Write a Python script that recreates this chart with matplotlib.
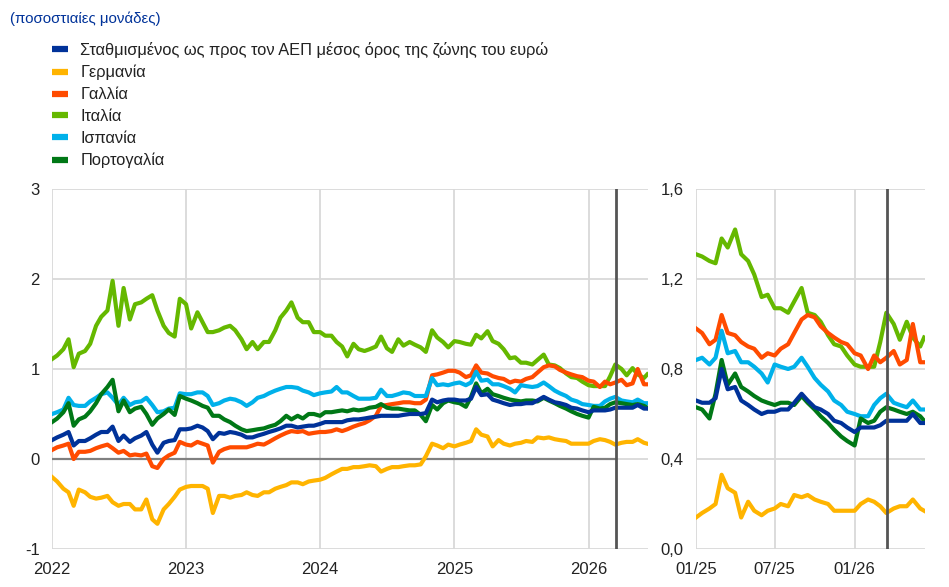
import matplotlib
matplotlib.use("Agg")
import matplotlib.pyplot as plt
import pandas as pd
import numpy as np
from matplotlib.lines import Line2D

plt.rcParams['font.family'] = ['Liberation Sans', 'DejaVu Sans']

# ---------------- data ----------------
dates = list(pd.date_range('2022-01-01', '2026-06-01', freq='SMS')) + [pd.Timestamp('2026-06-10')]

labels = ["Σταθμισμένος ως προς τον ΑΕΠ μέσος όρος της ζώνης του ευρώ",
          "Γερμανία", "Γαλλία", "Ιταλία", "Ισπανία", "Πορτογαλία"]

ea = [0.21, 0.24, 0.27, 0.30, 0.15, 0.20, 0.20, 0.23, 0.27, 0.30,
      0.30, 0.36, 0.20, 0.26, 0.19, 0.23, 0.26, 0.30, 0.16, 0.07,
      0.18, 0.20, 0.21, 0.33, 0.33, 0.34,
      0.37, 0.35, 0.31, 0.22, 0.29, 0.28, 0.30, 0.29, 0.27, 0.24,
      0.24, 0.26, 0.28, 0.30, 0.32, 0.34, 0.37, 0.37, 0.35, 0.36,
      0.37, 0.37, 0.39, 0.41, 0.41, 0.41, 0.41, 0.43, 0.44, 0.44,
      0.45, 0.46, 0.47, 0.48, 0.48, 0.48, 0.48, 0.49, 0.50, 0.50,
      0.50, 0.51, 0.66, 0.63, 0.65, 0.66,
      0.66, 0.65, 0.65, 0.67, 0.80, 0.71, 0.72, 0.66, 0.64, 0.62, 0.60, 0.61, 0.61,
      0.62, 0.62, 0.65, 0.69, 0.66, 0.63, 0.62, 0.60, 0.57, 0.56, 0.54, 0.52,
      0.54, 0.54, 0.54, 0.55, 0.57, 0.57, 0.57, 0.57, 0.60, 0.56, 0.56]

de = [-0.20, -0.25, -0.33, -0.37, -0.52, -0.34, -0.37, -0.42, -0.44, -0.43,
      -0.41, -0.48, -0.52, -0.50, -0.50, -0.56, -0.56, -0.45, -0.67, -0.72,
      -0.56, -0.50, -0.42, -0.34, -0.31, -0.30,
      -0.30, -0.30, -0.33, -0.60, -0.41, -0.41, -0.43, -0.41, -0.40, -0.37,
      -0.40, -0.41, -0.37, -0.37, -0.33, -0.31, -0.29, -0.26, -0.26, -0.28,
      -0.25, -0.24, -0.23, -0.21, -0.17, -0.14, -0.11, -0.11, -0.09, -0.09,
      -0.08, -0.07, -0.08, -0.14, -0.11, -0.09, -0.09, -0.08, -0.07, -0.07,
      -0.06, 0.03, 0.17, 0.15, 0.12, 0.16,
      0.14, 0.16, 0.18, 0.20, 0.33, 0.27, 0.25, 0.14, 0.21, 0.17, 0.15, 0.17, 0.18,
      0.20, 0.19, 0.24, 0.23, 0.24, 0.22, 0.21, 0.20, 0.17, 0.17, 0.17, 0.17,
      0.20, 0.22, 0.21, 0.19, 0.16, 0.18, 0.19, 0.19, 0.22, 0.18, 0.17]

fr = [0.10, 0.13, 0.15, 0.17, 0.00, 0.08, 0.08, 0.09, 0.12, 0.14,
      0.16, 0.12, 0.07, 0.09, 0.04, 0.05, 0.04, 0.06, -0.08, -0.10,
      0.00, 0.04, 0.07, 0.19, 0.16, 0.15,
      0.19, 0.17, 0.15, -0.04, 0.08, 0.11, 0.13, 0.13, 0.13, 0.13,
      0.15, 0.17, 0.16, 0.19, 0.23, 0.26, 0.29, 0.31, 0.30, 0.31,
      0.28, 0.29, 0.30, 0.30, 0.31, 0.33, 0.31, 0.33, 0.36, 0.38,
      0.40, 0.43, 0.48, 0.59, 0.60, 0.61, 0.62, 0.63, 0.63, 0.62,
      0.62, 0.66, 0.93, 0.94, 0.96, 0.98,
      0.98, 0.96, 0.91, 0.93, 1.04, 0.96, 0.95, 0.92, 0.90, 0.89, 0.85, 0.87, 0.86,
      0.89, 0.91, 0.96, 1.02, 1.04, 1.03, 0.99, 0.96, 0.94, 0.92, 0.91, 0.87,
      0.86, 0.80, 0.86, 0.83, 0.85, 0.88, 0.82, 0.84, 1.00, 0.83, 0.83]

it = [1.11, 1.15, 1.22, 1.33, 1.02, 1.17, 1.20, 1.28, 1.48, 1.58,
      1.65, 1.98, 1.48, 1.90, 1.55, 1.72, 1.74, 1.78, 1.82, 1.65,
      1.48, 1.40, 1.36, 1.78, 1.72, 1.45,
      1.63, 1.52, 1.41, 1.41, 1.43, 1.46, 1.48, 1.43, 1.33, 1.22,
      1.30, 1.22, 1.30, 1.30, 1.43, 1.57, 1.65, 1.74, 1.57, 1.52,
      1.52, 1.41, 1.41, 1.37, 1.37, 1.30, 1.25, 1.14, 1.28, 1.22,
      1.20, 1.22, 1.25, 1.36, 1.23, 1.19, 1.33, 1.26, 1.30, 1.27,
      1.24, 1.19, 1.43, 1.35, 1.30, 1.24,
      1.31, 1.30, 1.28, 1.27, 1.38, 1.34, 1.42, 1.31, 1.28, 1.22, 1.12, 1.13, 1.07,
      1.07, 1.05, 1.10, 1.16, 1.05, 1.04, 1.01, 0.95, 0.91, 0.90, 0.86, 0.82,
      0.81, 0.81, 0.81, 0.92, 1.05, 1.00, 0.93, 1.01, 0.94, 0.90, 0.94]

es = [0.50, 0.52, 0.55, 0.68, 0.60, 0.59, 0.59, 0.64, 0.68, 0.72,
      0.74, 0.68, 0.60, 0.68, 0.60, 0.63, 0.64, 0.68, 0.60, 0.52,
      0.53, 0.56, 0.57, 0.73, 0.72, 0.72,
      0.74, 0.74, 0.70, 0.60, 0.62, 0.65, 0.67, 0.66, 0.63, 0.59,
      0.63, 0.68, 0.70, 0.73, 0.76, 0.78, 0.80, 0.80, 0.79, 0.76,
      0.74, 0.71, 0.73, 0.74, 0.75, 0.80, 0.74, 0.74, 0.70, 0.67,
      0.67, 0.67, 0.68, 0.77, 0.70, 0.70, 0.72, 0.74, 0.73, 0.70,
      0.70, 0.70, 0.90, 0.82, 0.83, 0.82,
      0.84, 0.85, 0.82, 0.85, 0.97, 0.87, 0.88, 0.83, 0.83, 0.81, 0.78, 0.74, 0.82,
      0.81, 0.80, 0.81, 0.85, 0.81, 0.76, 0.73, 0.70, 0.66, 0.64, 0.61, 0.60,
      0.59, 0.59, 0.64, 0.67, 0.69, 0.65, 0.64, 0.63, 0.66, 0.62, 0.62]

pt = [0.41, 0.45, 0.52, 0.62, 0.37, 0.44, 0.47, 0.53, 0.62, 0.72,
      0.80, 0.88, 0.53, 0.65, 0.52, 0.56, 0.58, 0.50, 0.38, 0.45,
      0.50, 0.55, 0.49, 0.70, 0.67, 0.65,
      0.62, 0.59, 0.57, 0.48, 0.48, 0.44, 0.41, 0.37, 0.33, 0.31,
      0.32, 0.33, 0.34, 0.36, 0.38, 0.42, 0.48, 0.44, 0.48, 0.45,
      0.50, 0.50, 0.48, 0.52, 0.52, 0.53, 0.54, 0.53, 0.55, 0.54,
      0.55, 0.57, 0.58, 0.61, 0.57, 0.56, 0.56, 0.55, 0.54, 0.54,
      0.49, 0.42, 0.60, 0.55, 0.62, 0.65,
      0.63, 0.62, 0.58, 0.69, 0.84, 0.73, 0.78, 0.72, 0.70, 0.68, 0.66, 0.65, 0.64,
      0.65, 0.65, 0.64, 0.68, 0.65, 0.62, 0.59, 0.56, 0.53, 0.50, 0.48, 0.46,
      0.58, 0.56, 0.57, 0.61, 0.63, 0.62, 0.61, 0.60, 0.61, 0.59, 0.57]

left_yticks = [-1, 0, 1, 2, 3]
right_yticks = [0.0, 0.4, 0.8, 1.2, 1.6]
right_yticklabels = ["0,0", "0,4", "0,8", "1,2", "1,6"]
left_xticks = ['2022-01-01', '2023-01-01', '2024-01-01', '2025-01-01', '2026-01-01']
left_xticklabels = ["2022", "2023", "2024", "2025", "2026"]
right_xticks = ['2025-01-01', '2025-07-01', '2026-01-01']
right_xticklabels = ["01/25", "07/25", "01/26"]
cutoff = '2026-03-16'
title = "(ποσοστιαίες μονάδες)"

# ---------------- style ----------------
colors = {'ea': '#003299', 'de': '#FFB400', 'fr': '#FF4B00',
          'it': '#65B800', 'es': '#00B1EA', 'pt': '#007816'}
series = {'ea': ea, 'de': de, 'fr': fr, 'it': it, 'es': es, 'pt': pt}
legend_order = ['ea', 'de', 'fr', 'it', 'es', 'pt']
draw_order = ['de', 'it', 'fr', 'es', 'pt', 'ea']

W, H = 949, 587
fig = plt.figure(figsize=(W / 100, H / 100), dpi=100)

def px_axes(x0, y0, x1, y1):
    return fig.add_axes([x0 / W, 1 - y1 / H, (x1 - x0) / W, (y1 - y0) / H])

axL = px_axes(52, 189, 648, 549)
axR = px_axes(696, 189, 925, 549)

txt_color = '#222222'
grid_color = '#d9d9d9'
dt = pd.to_datetime(dates)

for ax in (axL, axR):
    for s in ax.spines.values():
        s.set_visible(False)
    ax.tick_params(length=0, labelsize=12, colors=txt_color)
    ax.grid(True, color=grid_color, linewidth=1.3)
    ax.set_axisbelow(True)

LW = 3.0
# left panel
for key in draw_order:
    axL.plot(dt, series[key], color=colors[key], lw=LW, zorder=3)
axL.set_ylim(-1, 3)
axL.set_yticks(left_yticks)
axL.set_yticklabels([str(v) for v in left_yticks])
axL.set_xlim(pd.Timestamp('2022-01-01'), pd.Timestamp('2026-06-12'))
axL.set_xticks(pd.to_datetime(left_xticks))
axL.set_xticklabels(left_xticklabels)
axL.plot([pd.Timestamp('2022-01-01'), pd.Timestamp(cutoff)], [0, 0], color='#808080', lw=1.6, zorder=2)
axL.axvline(pd.Timestamp(cutoff), color='#555555', lw=2.0, zorder=4)
axL.tick_params(axis='y', pad=9)
axL.tick_params(axis='x', pad=9)

# right panel
mask = dt >= pd.Timestamp('2025-01-01')
for key in draw_order:
    axR.plot(dt[mask], np.array(series[key])[mask], color=colors[key], lw=LW, zorder=3)
axR.set_ylim(0, 1.6)
axR.set_yticks(right_yticks)
axR.set_yticklabels(right_yticklabels)
axR.set_xlim(pd.Timestamp('2025-01-01'), pd.Timestamp('2026-06-12'))
axR.set_xticks(pd.to_datetime(right_xticks))
axR.set_xticklabels(right_xticklabels)
axR.axvline(pd.Timestamp(cutoff), color='#555555', lw=2.0, zorder=4)
axR.tick_params(axis='y', pad=9)
axR.tick_params(axis='x', pad=9)

# title
fig.text(10 / W, 1 - 19 / H, title, color='#003299', fontsize=10.8, va='center', ha='left')

# legend
handles = [Line2D([0], [0], color=colors[k], lw=4.5, solid_capstyle='butt') for k in legend_order]
fig.legend(handles, labels, loc='upper left', bbox_to_anchor=(52 / W, 1 - 42 / H),
           frameon=False, fontsize=11.8, handlelength=1.0, handletextpad=0.72,
           labelspacing=0.42, borderaxespad=0, borderpad=0, labelcolor=txt_color)

fig.savefig('out.png', dpi=100)
